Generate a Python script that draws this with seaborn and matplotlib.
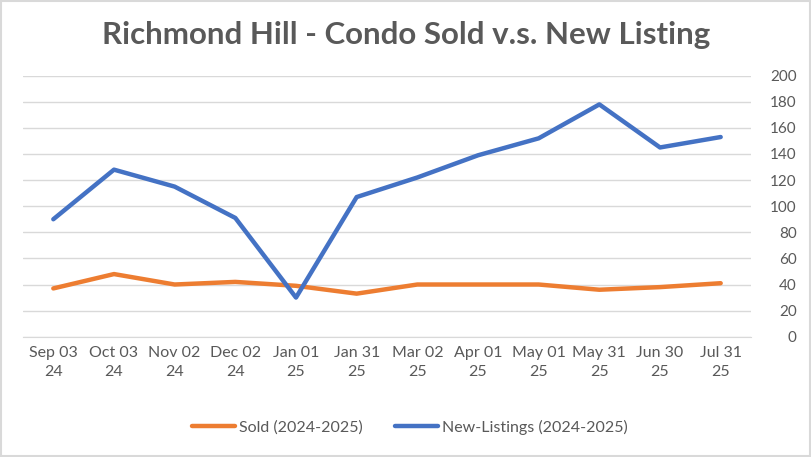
import matplotlib
matplotlib.use("Agg")
import matplotlib.pyplot as plt
import seaborn as sns
import pandas as pd
from matplotlib.patches import Rectangle

dates = ["Sep 03\n24", "Oct 03\n24", "Nov 02\n24", "Dec 02\n24", "Jan 01\n25", "Jan 31\n25",
         "Mar 02\n25", "Apr 01\n25", "May 01\n25", "May 31\n25", "Jun 30\n25", "Jul 31\n25"]
sold = [37, 48, 40, 42, 39, 33, 40, 40, 40, 36, 38, 41]
new_listings = [90, 128, 115, 91, 30, 107, 122, 139, 152, 178, 145, 153]
series_names = ["Sold (2024-2025)", "New-Listings (2024-2025)"]
y_ticks = list(range(0, 201, 20))

df = pd.DataFrame({
    "date": dates * 2,
    "value": sold + new_listings,
    "series": [series_names[0]] * len(dates) + [series_names[1]] * len(dates),
})

sns.set_style("white")
plt.rcParams["font.family"] = ["Lato", "DejaVu Sans"]
text_color = "#595959"
grid_color = "#d9d9d9"

fig = plt.figure(figsize=(8.12, 4.57), dpi=100)
ax = fig.add_axes([0.0283, 0.2632, 0.8966, 0.5712])

sns.lineplot(data=df, x="date", y="value", hue="series", sort=False,
             palette=["#ED7D31", "#4472C4"], linewidth=3.2, ax=ax)

ax.set_xlim(-0.5, len(dates) - 0.5)
ax.set_ylim(0, 200)
ax.set_yticks(y_ticks)
ax.yaxis.tick_right()
ax.tick_params(axis="y", length=0, pad=33, labelsize=11, labelcolor=text_color)
for lbl in ax.get_yticklabels():
    lbl.set_horizontalalignment("right")
ax.tick_params(axis="x", length=0, pad=7, labelsize=11.5, labelcolor=text_color)
for lbl in ax.get_xticklabels():
    lbl.set_linespacing(1.45)
ax.grid(axis="y", color=grid_color, linewidth=1)
ax.set_axisbelow(True)
for side in ["top", "left", "right"]:
    ax.spines[side].set_visible(False)
ax.spines["bottom"].set_color(grid_color)
ax.set_xlabel("")
ax.set_ylabel("")

ax.legend(loc="center", bbox_to_anchor=(410 / 812, 1 - 427 / 457),
          bbox_transform=fig.transFigure, ncol=2, frameon=False,
          fontsize=11.5, labelcolor=text_color, handlelength=2.7,
          handletextpad=0.25, columnspacing=2.0)

fig.text(0.5, 1 - 35 / 457, "Richmond Hill - Condo Sold v.s. New Listing",
         ha="center", va="center", fontsize=22.5, fontweight="bold", color=text_color)

fig.patches.append(Rectangle((0.001, 0.002), 0.997, 0.995, transform=fig.transFigure,
                             fill=False, edgecolor=grid_color, linewidth=1.5))

fig.savefig("out.png", dpi=100)
